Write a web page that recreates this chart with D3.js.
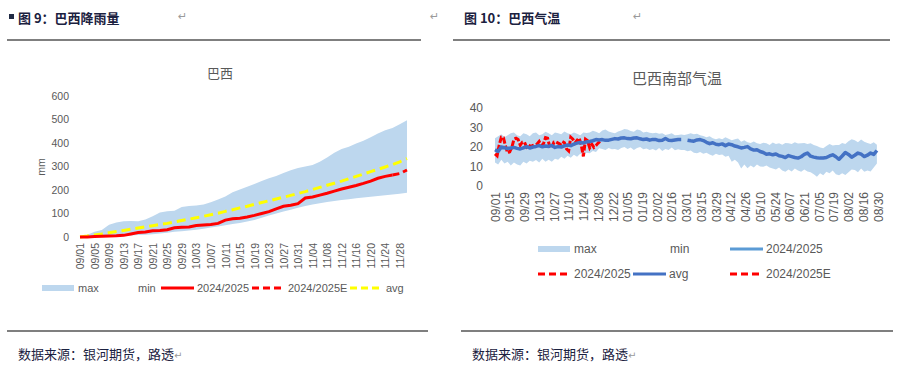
<!DOCTYPE html>
<html>
<head>
<meta charset="utf-8">
<script src="https://cdn.jsdelivr.net/npm/d3@7"></script>
<style>
  body { margin: 0; background: #fff; }
  svg { display: block; font-family: "Liberation Sans", Arial, sans-serif; }
</style>
</head>
<body>
<svg id="chart" width="909" height="375"></svg>
<script>
// ---- data: Brazil rainfall (mm, cumulative), one value every 2 days from 09/01
const fmt = d3.timeFormat('%m/%d');
const rainDays = d3.timeDay.range(new Date(2024, 8, 1), new Date(2024, 11, 1)).map(fmt);
const rainStep = 2;
const rainMax = [0, 10, 22, 30, 52, 62, 67, 68, 67, 74,
  88, 104, 110, 112, 128, 132, 134, 138, 148, 160,
  172, 190, 202, 214, 226, 238, 250, 260, 272, 284,
  294, 300, 306, 320, 338, 358, 375, 384, 398, 410,
  424, 440, 454, 464, 480, 497];
const rainMin = [0, 0, 1, 2, 3, 4, 5, 6, 8, 10,
  12, 15, 18, 22, 25, 28, 31, 35, 40, 45,
  50, 55, 60, 66, 72, 82, 92, 100, 108, 116,
  124, 132, 138, 144, 149, 153, 157, 161, 165, 168,
  171, 174, 178, 181, 184, 188];
const rainAvg = [0, 4, 9, 13, 18, 23, 28, 33, 38, 43,
  48, 53, 58, 64, 70, 76, 82, 88, 95, 101,
  109, 116, 124, 131, 139, 147, 154, 162, 169, 177,
  185, 193, 202, 211, 220, 229, 238, 248, 258, 268,
  278, 288, 298, 308, 320, 334];
const rain2425 = [0, 0, 2, 3, 4, 5, 7, 13, 19, 21,
  27, 28, 31, 39, 41, 43, 49, 51, 53, 58,
  72, 78, 80, 85, 92, 100, 108, 120, 131, 135,
  142, 166, 170, 178, 186, 195, 204, 212, 219, 228,
  238, 250, 258, 264];
const rain2425EStart = 86;
const rain2425E = [264, 270, 285];
const rainTicks = [0, 100, 200, 300, 400, 500, 600];

// ---- data: south Brazil temperature (C), one value every 3 days from 09/01 (leap-year calendar)
const tempDays = d3.timeDay.range(new Date(2023, 8, 1), new Date(2024, 8, 1)).map(fmt);
const tempStep = 3;
const tempMax = [24.5, 25.5, 26.5, 25, 26, 27, 27.5, 26, 25.5, 27,
  26.5, 25.5, 27, 27.5, 26, 26.5, 27.8, 27, 26, 27.5,
  27, 26.5, 27.9, 27, 26.5, 27.5, 26.8, 26, 27.4, 27.2,
  27.5, 28.3, 27.8, 27, 28.5, 29, 28, 27.5, 27, 28,
  28.5, 29.2, 29, 28.2, 27.8, 29, 28.6, 27.5, 27.8, 27.3,
  27, 27.3, 26.8, 27, 26.2, 26.5, 27, 26, 26.2, 26.4,
  26.2, 26.5, 27, 26.5, 26.8, 26, 25.6, 25, 25.5, 24.5,
  24, 24.5, 24, 25, 24.2, 23.5, 24, 24.3, 22.7, 23.5,
  22.5, 22, 22.8, 21.9, 21.5, 22.2, 21.9, 21, 22.3, 21.5,
  21.9, 21.2, 22, 21.9, 21.5, 22.5, 21.8, 21.9, 22, 21.5,
  21.9, 21, 20.5, 19.8, 19.3, 20.5, 21.6, 20.8, 21, 21,
  22, 21.5, 23, 24, 23.5, 22.5, 23.8, 22.7, 22, 21.5,
  22.5, 21.2];
const tempMin = [12, 11, 13.5, 11.5, 12.5, 10.5, 12, 11, 10.5, 12.5,
  11.5, 13, 12.5, 13.3, 12, 14, 12.5, 13.5, 12.5, 14,
  13.5, 15, 14, 15.5, 14.5, 16, 15, 16.5, 16, 17,
  16.8, 18, 17.5, 19.3, 19, 18.5, 19.5, 18.8, 19, 18.5,
  19.5, 20, 19, 19.8, 18.5, 19.5, 20, 18.8, 19.2, 18.5,
  19, 18.2, 19.5, 18, 19, 18.5, 19.8, 18.3, 18.8, 18.5,
  18.5, 17.8, 18.2, 17, 16.8, 17.5, 16.5, 17, 16.2, 15.5,
  16.5, 15.9, 16.2, 15, 15.5, 12.5, 13.5, 12, 9, 11,
  9.1, 10.5, 9.5, 11, 10, 9.9, 10.5, 9.5, 9, 8.5,
  9.5, 8, 7.3, 8.5, 7.5, 9, 8, 7.3, 8.5, 7.5,
  7, 6, 4.8, 6.5, 5.5, 7.3, 6.5, 8, 6, 5.5,
  6.5, 5.6, 7, 8.5, 8.2, 7, 9, 7.3, 8, 7.5,
  9.5, 11.6];
const tempAvg = [18.6, 17.7, 20, 19.6, 19.2, 19.5, 19.8, 19.3, 19, 19.6,
  20.2, 19.5, 20, 20.3, 20.7, 20.1, 20.5, 20.3, 20.8, 19.8,
  20.2, 20, 20.6, 21, 20.7, 21.5, 22, 22.3, 22.1, 22.6,
  22.8, 23.2, 23.8, 23.6, 23.8, 23.4, 23.5, 23.9, 24.3, 24.1,
  24.6, 24.7, 24.3, 24.2, 24.6, 24.7, 24.2, 23.8, 24.1, 23.5,
  23.9, 23.8, 23.3, 23.5, 24.4, 23.5, 23.3, 23.6, 23.8, 23.8,
  null, 23.5, 23.2, 23, 23.6, 23.8, 23.3, 22.4, 21.7, 22.2,
  21.4, 21.2, 21.6, 20.7, 21.5, 21.2, 20.5, 20.1, 19.5, 19.8,
  20.2, 19, 18.4, 18.6, 17.7, 17.2, 16.3, 16.5, 16, 16.4,
  15.5, 15.2, 14.6, 15.6, 15.1, 14.6, 14.3, 15, 16.2, 16.9,
  15.3, 14.8, 14.5, 14.3, 14.4, 14.6, 15.4, 16, 15, 13.7,
  15.4, 17.2, 16.2, 14.8, 15.8, 16.9, 16.3, 15.1, 15.8, 16.9,
  16.2, 18.2];
const temp2425Step = 2;
const temp2425 = [16.5, 15.5, 21, 25, 24.7, 20.5, 17, 17.5, 19.8, 24,
  24.5, 23.8, 21, 22.5, 22.5, 20, 21, 20.2, 20.8, 21.2,
  21.5, 22.8, 20.8, 21.5, 24.8, 24.5, 20.3, 19.6, 22.5, 22.6,
  22, 21.4, 22.8, 22.2, 19, 18, 25, 24, 22, 23.5,
  24.5, 21, 15.2, 24, 23.2, 19.6, 21.5, 19.8, 20.8, 22,
  23];
const tempTicks = [0, 10, 20, 30, 40];

const gray = '#595959';
const bandColor = '#BDD7EE';
const svg = d3.select('#chart');

const pts = (days, vals, step, start = 0) => vals.map((v, i) => ({ day: days[start + i * step], v }));
const band = (days, lo, hi, step) => lo.map((v, i) => ({ day: days[i * step], lo: v, hi: hi[i] }));

// ---- page frame: headers, rules, sources
function frame(x0, x1, x2, bx0, bx1, label, markX, squared) {
    if (squared) svg.append('rect').attr('x', 9).attr('y', 14).attr('width', 5).attr('height', 5).attr('fill', '#1f2a44');
    svg.append('text').attr('x', x0).attr('y', 23)
        .style('font-family', '"Noto Sans CJK SC", sans-serif').style('font-weight', 'bold')
        .style('font-size', '13px').attr('fill', '#1b2140').text(label);
    svg.append('text').attr('x', markX).attr('y', 20).style('font-family', '"DejaVu Sans", sans-serif')
        .style('font-size', '11px').attr('fill', '#9a9a9a').text('↵');
    svg.append('line').attr('x1', x1).attr('x2', x2).attr('y1', 40).attr('y2', 40).attr('stroke', '#000').attr('stroke-width', 1.2);
    svg.append('line').attr('x1', bx0).attr('x2', bx1).attr('y1', 331).attr('y2', 331).attr('stroke', '#000').attr('stroke-width', 1.2);
    const src = svg.append('text').attr('x', bx0 + 11).attr('y', 359)
        .style('font-family', '"Noto Sans CJK SC", sans-serif').style('font-size', '13px').attr('fill', '#1b2140');
    src.append('tspan').text('数据来源：银河期货，路透');
    src.append('tspan').style('font-family', '"DejaVu Sans", sans-serif').style('font-size', '10px').attr('fill', '#9a9a9a').text('↵');
}
frame(18, 7, 421, 7, 428, '图 9：巴西降雨量', 178, true);
frame(464, 453, 890, 461, 893, '图 10：巴西气温', 633, false);
svg.append('text').attr('x', 430).attr('y', 20).style('font-family', '"DejaVu Sans", sans-serif')
    .style('font-size', '11px').attr('fill', '#9a9a9a').text('↵');

// legend helper
function legendItem(x, y, kind, label, opts = {}) {
    const g = svg.append('g').attr('transform', `translate(${x},${y})`);
    if (kind === 'area') g.append('rect').attr('x', 0).attr('y', -3).attr('width', 32).attr('height', 6).attr('fill', bandColor);
    if (kind === 'line') g.append('line').attr('x1', 0).attr('x2', 33).attr('y1', 0).attr('y2', 0)
        .attr('stroke', opts.color).attr('stroke-width', 3).attr('stroke-dasharray', opts.dash || null);
    g.append('text').attr('x', 36).attr('dy', '0.35em').style('font-size', opts.size || '11px').attr('fill', gray).text(label);
}

// ---- left chart: rainfall
{
    const x = d3.scalePoint().domain(rainDays).range([80, 407]);
    const y = d3.scaleLinear().domain([0, 600]).range([237, 96]);

    svg.append('text').attr('x', 220).attr('y', 78).attr('text-anchor', 'middle')
        .style('font-family', '"Noto Sans CJK SC", sans-serif').style('font-size', '13px').attr('fill', gray).text('巴西');

    const yAxis = svg.append('g').attr('transform', 'translate(72,0)')
        .call(d3.axisLeft(y).tickValues(rainTicks).tickSize(0).tickPadding(3));
    yAxis.select('.domain').remove();
    yAxis.selectAll('text').style('font-size', '10.5px').attr('fill', gray);

    const xAxis = svg.append('g').attr('transform', 'translate(0,239)')
        .call(d3.axisBottom(x).tickValues(rainDays.filter((d, i) => i % 4 === 0)).tickSize(0));
    xAxis.select('.domain').remove();
    xAxis.selectAll('text').attr('transform', 'rotate(-90)').attr('x', -4).attr('y', 0).attr('dy', '0.35em')
        .style('text-anchor', 'end').style('font-size', '10.5px').attr('fill', gray);

    svg.append('text').attr('transform', 'translate(45,167) rotate(-90)').attr('text-anchor', 'middle')
        .style('font-size', '10.5px').attr('fill', gray).text('mm');

    svg.append('path').datum(band(rainDays, rainMin, rainMax, rainStep))
        .attr('d', d3.area().x(d => x(d.day)).y0(d => y(d.lo)).y1(d => y(d.hi)))
        .attr('fill', bandColor);

    const line = d3.line().x(d => x(d.day)).y(d => y(d.v));
    svg.append('path').datum(pts(rainDays, rainAvg, rainStep)).attr('d', line)
        .attr('fill', 'none').attr('stroke', '#FFFF00').attr('stroke-width', 3).attr('stroke-dasharray', '9,5');
    svg.append('path').datum(pts(rainDays, rain2425, rainStep)).attr('d', line)
        .attr('fill', 'none').attr('stroke', '#FF0000').attr('stroke-width', 3);
    svg.append('path').datum(pts(rainDays, rain2425E, rainStep, rain2425EStart)).attr('d', line)
        .attr('fill', 'none').attr('stroke', '#FF0000').attr('stroke-width', 3).attr('stroke-dasharray', '7,4');

    legendItem(42, 288, 'area', 'max');
    legendItem(102, 288, 'none', 'min');
    legendItem(161, 288, 'line', '2024/2025', { color: '#FF0000' });
    legendItem(252, 288, 'line', '2024/2025E', { color: '#FF0000', dash: '7,4' });
    legendItem(350, 288, 'line', 'avg', { color: '#FFFF00', dash: '7,4' });
}

// ---- right chart: temperature
{
    const x = d3.scalePoint().domain(tempDays).range([495, 879]);
    const y = d3.scaleLinear().domain([0, 40]).range([186, 108]);

    svg.append('text').attr('x', 677).attr('y', 84).attr('text-anchor', 'middle')
        .style('font-family', '"Noto Sans CJK SC", sans-serif').style('font-size', '15px').attr('fill', gray).text('巴西南部气温');

    const yAxis = svg.append('g').attr('transform', 'translate(486,0)')
        .call(d3.axisLeft(y).tickValues(tempTicks).tickSize(0).tickPadding(3));
    yAxis.select('.domain').remove();
    yAxis.selectAll('text').style('font-size', '12px').attr('fill', gray);

    const xAxis = svg.append('g').attr('transform', 'translate(0,188)')
        .call(d3.axisBottom(x).tickValues(tempDays.filter((d, i) => i % 14 === 0)).tickSize(0));
    xAxis.select('.domain').remove();
    xAxis.selectAll('text').attr('transform', 'rotate(-90)').attr('x', -4).attr('y', 0).attr('dy', '0.35em')
        .style('text-anchor', 'end').style('font-size', '12px').attr('fill', gray);

    svg.append('path').datum(band(tempDays, tempMin, tempMax, tempStep))
        .attr('d', d3.area().x(d => x(d.day)).y0(d => y(d.lo)).y1(d => y(d.hi)))
        .attr('fill', bandColor);

    const line = d3.line().defined(d => d.v != null).x(d => x(d.day)).y(d => y(d.v));
    svg.append('path').datum(pts(tempDays, temp2425, temp2425Step)).attr('d', line)
        .attr('fill', 'none').attr('stroke', '#FF0000').attr('stroke-width', 3).attr('stroke-dasharray', '6,2');
    svg.append('path').datum(pts(tempDays, tempAvg, tempStep)).attr('d', line)
        .attr('fill', 'none').attr('stroke', '#4472C4').attr('stroke-width', 3.5).attr('stroke-linejoin', 'round');

    legendItem(538, 249, 'area', 'max', { size: '12px' });
    legendItem(634, 249, 'none', 'min', { size: '12px' });
    legendItem(730, 249, 'line', '2024/2025', { color: '#5B9BD5', size: '12px' });
    legendItem(538, 274, 'line', '2024/2025', { color: '#FF0000', dash: '7,4', size: '12px' });
    legendItem(633, 274, 'line', 'avg', { color: '#4472C4', size: '12px' });
    legendItem(730, 274, 'line', '2024/2025E', { color: '#FF0000', dash: '7,4', size: '12px' });
}
</script>
</body>
</html>
